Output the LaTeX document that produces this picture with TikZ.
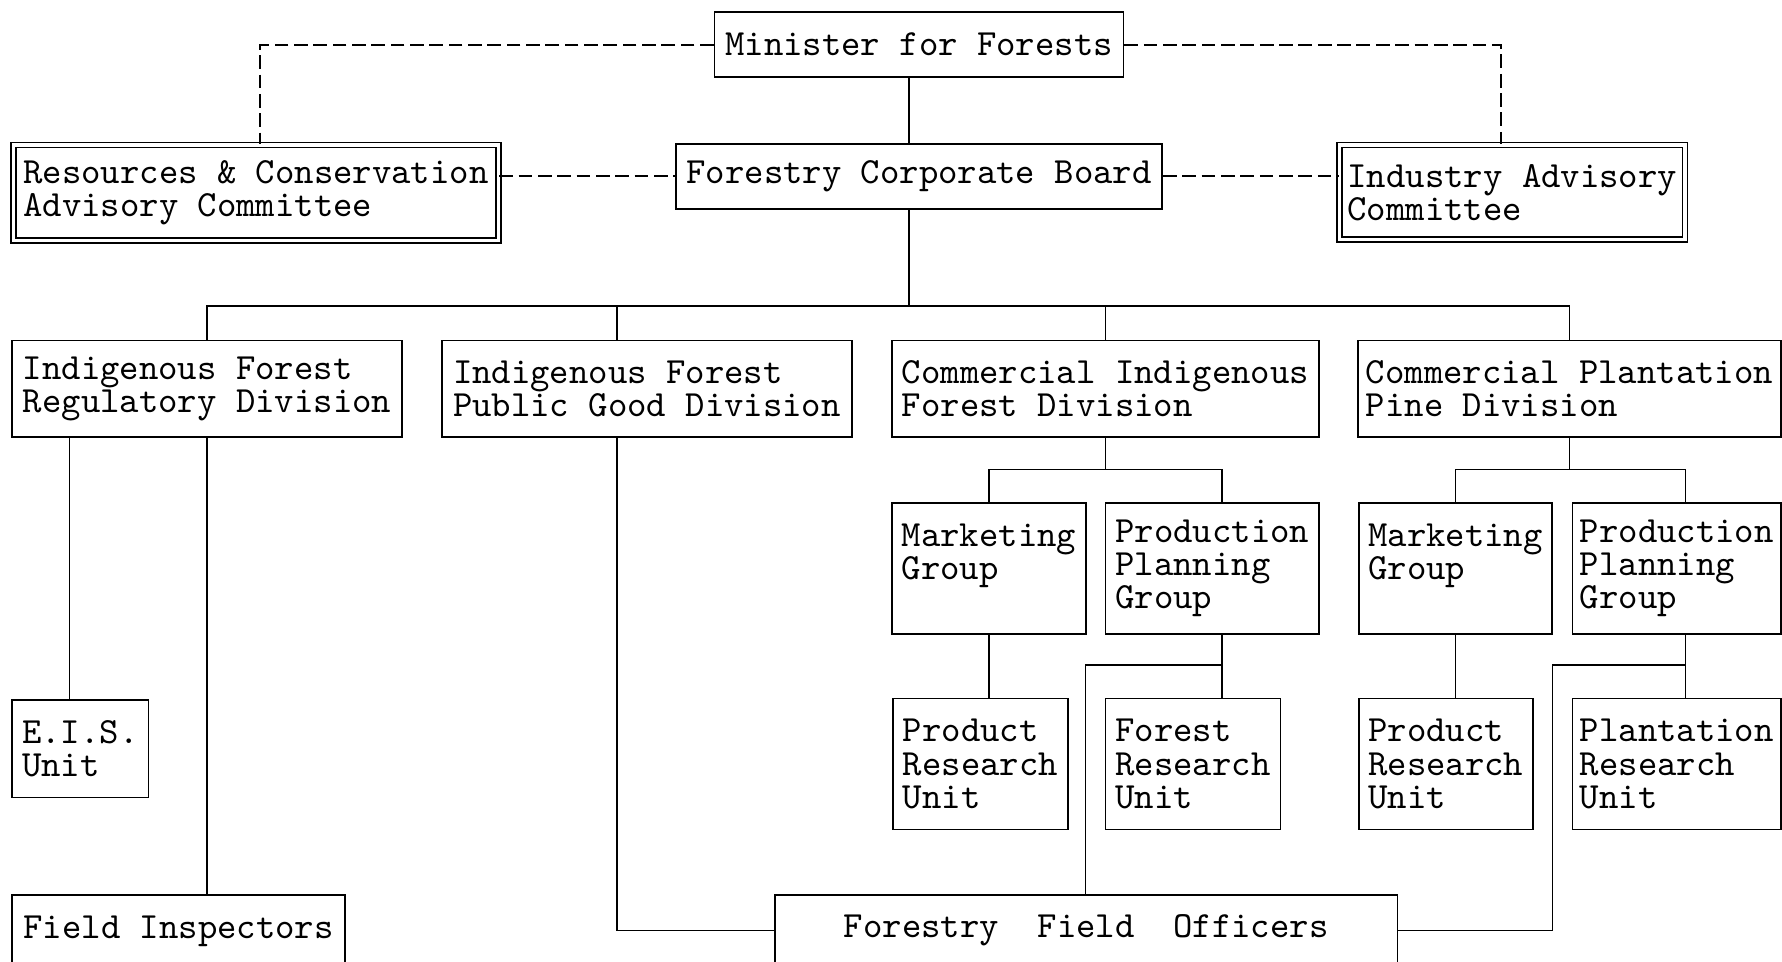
\documentclass[tikz,border=0pt]{standalone}
\usepackage{fontspec}
\newdimen\pxu
\pxu=0.1136mm
\tikzset{
  box/.style={draw, line width=0.45pt, anchor=north west, align=left, inner sep=0pt,
    font={\ttfamily\fontsize{10.5}{9.4}\selectfont\lineskiplimit=-20pt}},
  boxsize/.style 2 args={minimum width=#1*\pxu, minimum height=#2*\pxu},
  dbox/.style={box, double, double distance=1pt},
  link/.style={line width=0.45pt},
  dlink/.style={line width=0.55pt, dash pattern=on 3.9pt off 1.6pt},
}
\begin{document}
\begin{tikzpicture}[x=0.1136mm, y=-0.1136mm]
\useasboundingbox (0,0) rectangle (1568,846);
\clip (0,0) rectangle (1568,846);

\node[box, boxsize={360}{57}] (min) at (628,10) {Minister for Forests};
\node[box, boxsize={428}{57}] (fcb) at (594,126) {Forestry Corporate Board};
\node[dbox, boxsize={427}{84}] (rcc) at (11,127) {Resources \& Conservation\\Advisory Committee};
\node[dbox, boxsize={304}{83}] (iac) at (1178,127) {Industry Advisory\\Committee};

\node[box, boxsize={343}{85}] (reg) at (10,299) {Indigenous Forest\\Regulatory Division};
\node[box, boxsize={361}{85}] (pgd) at (388,299) {Indigenous Forest\\Public Good Division};
\node[box, boxsize={376}{85}] (cid) at (784,299) {Commercial Indigenous\\Forest Division};
\node[box, boxsize={372.5}{85}] (cpd) at (1194,299) {Commercial Plantation\\Pine Division};

\node[box, boxsize={171}{115}] (mg1) at (784,442) {Marketing\\Group\\~};
\node[box, boxsize={188}{115}] (pp1) at (972,442) {Production\\Planning\\Group};
\node[box, boxsize={170}{115}] (mg2) at (1195,442) {Marketing\\Group\\~};
\node[box, boxsize={183.5}{115}] (pp2) at (1383,442) {Production\\Planning\\Group};

\node[box, boxsize={154}{115}] (pr1) at (785,614) {Product\\Research\\Unit};
\node[box, boxsize={154}{115}] (fr1) at (972,614) {Forest\\Research\\Unit};
\node[box, boxsize={153}{115}] (pr2) at (1195,614) {Product\\Research\\Unit};
\node[box, boxsize={183.5}{115}] (plr) at (1383,614) {Plantation\\Research\\Unit};

\node[box, boxsize={120}{86}] (eis) at (10,615) {E.I.S.\\Unit};
\node[box, boxsize={293}{64}] (fi) at (10,787) {Field Inspectors};
\node[box, boxsize={548}{62}] (ffo) at (681,787) {Forestry~~Field~~Officers};

\coordinate (trunk) at (800,269);
\coordinate (pgx) at (543,269);
\coordinate (eisx) at (61,0);
\coordinate (cibus) at (0,413);
\coordinate (ppa) at (1075,585);
\coordinate (ffa) at (955,585);
\coordinate (ppb) at (1483,585);
\coordinate (ffb) at (1366,585);
\coordinate (dla) at (229,0);
\coordinate (dlb) at (1321,0);

\draw[dlink]
(min.west) -| (rcc.north -| dla)
(min.east) -| (iac.north -| dlb)
(rcc.east |- fcb.west) -- (fcb.west)
(fcb.east) -- (iac.west |- fcb.east);

\draw[link]
(min.south -| trunk) -- (fcb.north -| trunk)
(fcb.south -| trunk) -- (trunk)
(reg.north) |- (cpd.north |- trunk) -- (cpd.north)
(pgd.north -| pgx) -- (pgx)
(cid.north) -- (cid.north |- trunk);

\draw[link]
(reg.south -| eisx) -- (eis.north -| eisx)
(reg.south) -- (fi.north -| reg.south)
(pgd.south -| pgx) |- (ffo.west);

\draw[link]
(cid.south) -- (cid.south |- cibus)
(mg1.north) |- (ppa |- cibus) -- (pp1.north -| ppa)
(mg1.south) -- (pr1.north -| mg1.south)
(pp1.south -| ppa) -- (fr1.north -| ppa)
(ppa) -- (ffa) -- (ffo.north -| ffa);

\draw[link]
(cpd.south) -- (cpd.south |- cibus)
(mg2.north) |- (ppb |- cibus) -- (pp2.north -| ppb)
(mg2.south) -- (pr2.north -| mg2.south)
(pp2.south -| ppb) -- (plr.north -| ppb)
(ppb) -- (ffb) -- (ffb |- ffo.east) -- (ffo.east);

\end{tikzpicture}
\end{document}
